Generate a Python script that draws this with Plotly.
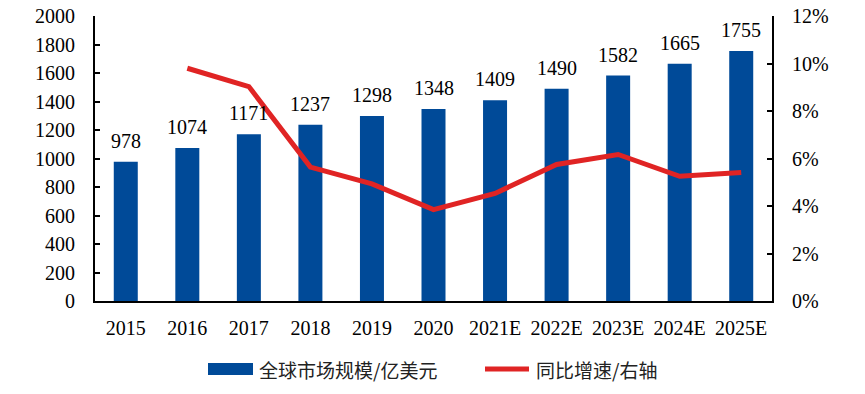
import plotly.graph_objects as go

categories = ["2015", "2016", "2017", "2018", "2019", "2020", "2021E", "2022E", "2023E", "2024E", "2025E"]
market_size = [978, 1074, 1171, 1237, 1298, 1348, 1409, 1490, 1582, 1665, 1755]
growth_cats = ["2016", "2017", "2018", "2019", "2020", "2021E", "2022E", "2023E", "2024E", "2025E"]
growth = [0.098, 0.0903, 0.0564, 0.0493, 0.0385, 0.0453, 0.0575, 0.0617, 0.0525, 0.0541]
left_ticks = [0, 200, 400, 600, 800, 1000, 1200, 1400, 1600, 1800, 2000]
right_ticks = [0, 0.02, 0.04, 0.06, 0.08, 0.10, 0.12]
bar_name = "全球市场规模/亿美元"
line_name = "同比增速/右轴"

BLUE = "#004A98"
RED = "#E02424"
font_main = "Liberation Serif, Times New Roman, Noto Sans CJK SC, serif"
font_cjk = "Noto Sans CJK SC, serif"

fig = go.Figure()
fig.add_trace(go.Bar(
    x=categories, y=market_size, name=bar_name,
    marker=dict(color=BLUE, line=dict(width=0)),
    showlegend=False,
))
fig.add_trace(go.Scatter(
    x=growth_cats, y=growth, name=line_name, yaxis="y2",
    mode="lines", line=dict(color=RED, width=5), showlegend=False,
))

# custom legend (paper coordinates)
W, H = 865, 394
ml, mr, mt, mb = 95, 93, 16, 93
pw, ph = W - ml - mr, H - mt - mb
def px(x):
    return (x - ml) / pw
def py(y):
    return (H - mb - y) / ph

shapes = [
    dict(type="rect", xref="paper", yref="paper", x0=px(208), x1=px(253), y0=py(375), y1=py(363),
         fillcolor=BLUE, line=dict(width=0)),
    dict(type="line", xref="paper", yref="paper", x0=px(485), x1=px(529), y0=py(369), y1=py(369),
         line=dict(color=RED, width=5)),
]
annotations = [
    dict(xref="paper", yref="paper", x=px(257), y=py(369), text=bar_name, showarrow=False,
         xanchor="left", yanchor="middle", font=dict(family=font_cjk, size=19, color="#222222")),
    dict(xref="paper", yref="paper", x=px(534), y=py(369), text=line_name, showarrow=False,
         xanchor="left", yanchor="middle", font=dict(family=font_cjk, size=19, color="#222222")),
]
# bar value labels (category index positions on the x axis)
for i, v in enumerate(market_size):
    annotations.append(dict(x=i, y=v, xref="x", yref="y", text=str(v), showarrow=False,
                            xanchor="center", yanchor="bottom", yshift=8,
                            font=dict(family=font_main, size=20, color="#000000")))

fig.update_layout(
    width=W, height=H,
    margin=dict(l=ml, r=mr, t=mt, b=mb),
    paper_bgcolor="white", plot_bgcolor="white",
    font=dict(family=font_main, size=20, color="#000000"),
    bargap=0.61,
    showlegend=False,
    shapes=shapes, annotations=annotations,
    xaxis=dict(type="category", categoryorder="array", categoryarray=categories,
               range=[-0.5, len(categories) - 0.5],
               showline=True, linecolor="#000000", linewidth=2,
               ticks="", showgrid=False, tickfont=dict(size=20), automargin=False,
               ticklabelstandoff=8),
    yaxis=dict(range=[0, 2000], tickvals=left_ticks, showline=True, linecolor="#000000",
               linewidth=2, ticks="inside", ticklen=5, tickwidth=1.5, tickcolor="#000000",
               showgrid=False, zeroline=False, tickfont=dict(size=20), automargin=False,
               ticklabelstandoff=14),
    yaxis2=dict(range=[0, 0.12], tickvals=right_ticks, tickformat=".0%", overlaying="y",
                side="right", showline=True, linecolor="#000000", linewidth=2,
                ticks="inside", ticklen=5, tickwidth=1.5, tickcolor="#000000",
                showgrid=False, zeroline=False, tickfont=dict(size=20), automargin=False,
                ticklabelstandoff=14),
)

fig.write_html("out.html", config={"displayModeBar": False},
               post_script="document.body.style.margin='0';document.body.style.overflow='hidden';")
